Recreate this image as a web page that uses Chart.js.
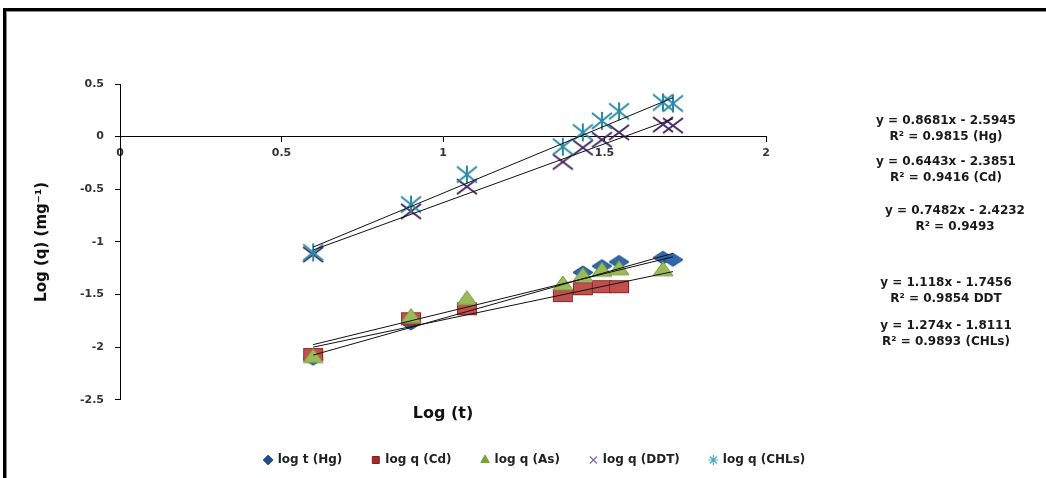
<!DOCTYPE html>
<html>
<head>
<meta charset="utf-8">
<script src="https://cdn.jsdelivr.net/npm/chart.js@4/dist/chart.umd.min.js"></script>
<style>
  html, body { margin: 0; padding: 0; background: #fff; overflow: hidden; }
  #wrap { position: relative; width: 1046px; height: 478px; }
</style>
</head>
<body>
<div id="wrap"><canvas id="c" width="1046" height="478"></canvas></div>
<script>
// log t values (x) for each series
const logT    = [0.598, 0.901, 1.074, 1.371, 1.433, 1.492, 1.545, 1.681, 1.712];
const hgLogT  = [0.598, 0.901, 1.433, 1.492, 1.545, 1.681, 1.712];
const cdLogT  = [0.598, 0.901, 1.074, 1.371, 1.433, 1.492, 1.545];
const asLogT  = [0.598, 0.901, 1.074, 1.371, 1.433, 1.492, 1.545, 1.681];

// log q values (y)
const hgLogQ  = [-2.11, -1.775, -1.29, -1.23, -1.19, -1.15, -1.17];
const cdLogQ  = [-2.07, -1.73, -1.635, -1.51, -1.445, -1.425, -1.425];
const asLogQ  = [-2.08, -1.70, -1.53, -1.39, -1.31, -1.26, -1.245, -1.255];
const ddtLogQ = [-1.12, -0.71, -0.475, -0.24, -0.105, -0.03, 0.04, 0.115, 0.105];
const chlLogQ = [-1.10, -0.645, -0.36, -0.095, 0.04, 0.15, 0.24, 0.325, 0.315];

// series names and linear fits
const seriesNames = ['log t (Hg)', 'log q (Cd)', 'log q (As)', 'log q (DDT)', 'log q (CHLs)'];
const fitSlope     = [0.8681, 0.6443, 0.7482, 1.118, 1.274];
const fitIntercept = [-2.5945, -2.3851, -2.4232, -1.7456, -1.8111];
const fitR2        = [0.9815, 0.9416, 0.9493, 0.9854, 0.9893];
const fitTag       = [' (Hg)', ' (Cd)', '', ' DDT', ' (CHLs)'];

// axis ticks
const xTicks = [0, 0.5, 1, 1.5, 2];
const yTicks = [0.5, 0, -0.5, -1, -1.5, -2, -2.5];

const pts = (xs, ys) => xs.map((x, i) => ({ x: x, y: ys[i] }));

// marker sprites (slightly wide markers)
function sprite(kind, w, h, fill, stroke) {
  const c = document.createElement('canvas');
  c.width = w + 4; c.height = h + 4;
  const g = c.getContext('2d');
  const cx = c.width / 2, cy = c.height / 2;
  g.lineJoin = 'miter';
  if (kind === 'diamond') {
    g.beginPath(); g.moveTo(cx, 2); g.lineTo(w + 2, cy); g.lineTo(cx, h + 2); g.lineTo(2, cy); g.closePath();
    g.fillStyle = fill; g.fill(); g.strokeStyle = stroke; g.lineWidth = 1; g.stroke();
  } else if (kind === 'rect') {
    g.fillStyle = fill; g.fillRect(2, 2, w, h);
    g.strokeStyle = stroke; g.lineWidth = 1; g.strokeRect(2.5, 2.5, w - 1, h - 1);
  } else if (kind === 'triangle') {
    g.beginPath(); g.moveTo(cx, 2); g.lineTo(w + 2, h + 2); g.lineTo(2, h + 2); g.closePath();
    g.fillStyle = fill; g.fill(); g.strokeStyle = stroke; g.lineWidth = 1; g.stroke();
  } else if (kind === 'cross' || kind === 'star') {
    g.strokeStyle = stroke; g.lineWidth = 2; g.lineCap = 'butt';
    g.beginPath();
    g.moveTo(2, 2); g.lineTo(w + 2, h + 2);
    g.moveTo(w + 2, 2); g.lineTo(2, h + 2);
    if (kind === 'star') { g.moveTo(cx, 1); g.lineTo(cx, h + 3); }
    g.stroke();
  }
  return c;
}

const mkHg  = sprite('diamond', 20, 13, '#2F69AC', '#1D4B82');
const mkCd  = sprite('rect', 20, 13, '#C0504D', '#8C2A28');
const mkAs  = sprite('triangle', 20, 14, '#9BBB59', '#7A9A3E');
const mkDdt = sprite('cross', 20, 15, null, '#46285F');
const mkChl = sprite('star', 20, 16, null, '#2A8AA6');

const legendLook = {
  'log t (Hg)':   { style: 'rectRot',  fill: '#1F4E8C', stroke: '#1F4E8C' },
  'log q (Cd)':   { style: 'rect',     fill: '#A32A27', stroke: '#7E1F1D' },
  'log q (As)':   { style: 'triangle', fill: '#77A33A', stroke: '#77A33A' },
  'log q (DDT)':  { style: 'crossRot', fill: '#8064A2', stroke: '#8064A2' },
  'log q (CHLs)': { style: 'star',     fill: '#4BACC6', stroke: '#4BACC6' }
};

const xFrom = logT[0], xTo = logT[logT.length - 1];
const trendSets = fitSlope.map((m, i) => ({
  type: 'line',
  label: 'trend ' + i,
  data: [{ x: xFrom, y: m * xFrom + fitIntercept[i] }, { x: xTo, y: m * xTo + fitIntercept[i] }],
  borderColor: '#111',
  borderWidth: 1,
  pointRadius: 0,
  showLine: true,
  fill: false
}));

const scatterSet = (label, data, img) => ({
  type: 'scatter', label: label, data: data,
  pointStyle: img, pointRadius: 10, pointHoverRadius: 10,
  backgroundColor: '#000', borderColor: '#000'
});

// earlier entries are painted on top
const datasets = trendSets.concat([
  scatterSet(seriesNames[4], pts(logT, chlLogQ), mkChl),
  scatterSet(seriesNames[3], pts(logT, ddtLogQ), mkDdt),
  scatterSet(seriesNames[2], pts(asLogT, asLogQ), mkAs),
  scatterSet(seriesNames[1], pts(cdLogT, cdLogQ), mkCd),
  scatterSet(seriesNames[0], pts(hgLogT, hgLogQ), mkHg)
]);

// page frame
const framePlugin = {
  id: 'frame',
  beforeDraw(chart) {
    const ctx = chart.ctx;
    ctx.save();
    ctx.fillStyle = '#fff';
    ctx.fillRect(0, 0, chart.width, chart.height);
    ctx.fillStyle = '#000';
    ctx.fillRect(3, 8, chart.width - 3, 3);
    ctx.fillRect(3, 8, 3, chart.height - 8);
    ctx.fillStyle = '#8a8a8a';
    ctx.fillRect(6, 11, chart.width - 6, 1);
    ctx.fillRect(6, 11, 1, chart.height - 11);
    ctx.restore();
  }
};

// fit equations at the right side
const eqPlugin = {
  id: 'equations',
  afterDraw(chart, args, opts) {
    const ctx = chart.ctx;
    ctx.save();
    ctx.font = 'bold 12px "DejaVu Sans"';
    ctx.fillStyle = '#1a1a1a';
    ctx.textAlign = 'center';
    ctx.textBaseline = 'middle';
    opts.rows.forEach((r, i) => {
      const eq = 'y = ' + fitSlope[i] + 'x - ' + Math.abs(fitIntercept[i]);
      const rr = 'R\u00B2 = ' + fitR2[i] + fitTag[i];
      ctx.fillText(eq, r[0], r[1]);
      ctx.fillText(rr, r[0], r[1] + 16);
    });
    ctx.restore();
  }
};

const tickFont = { family: '"DejaVu Sans"', size: 11, weight: 'bold' };
const tickText = v => String(v);

new Chart(document.getElementById('c'), {
  type: 'scatter',
  data: { datasets: datasets },
  plugins: [framePlugin, eqPlugin],
  options: {
    responsive: false,
    animation: false,
    events: [],
    layout: { padding: { left: 24, right: 0, top: 84, bottom: 2 } },
    scales: {
      x: {
        type: 'linear', min: 0, max: 2,
        position: { y: 0 },
        afterBuildTicks: s => { s.ticks = xTicks.map(v => ({ value: v })); },
        ticks: { font: tickFont, color: '#333', padding: 5, maxRotation: 0, callback: tickText },
        grid: { display: true, drawOnChartArea: false, drawTicks: true, tickLength: 5, color: '#000' },
        border: { display: true, color: '#000', width: 1 }
      },
      y: {
        type: 'linear', min: -2.5, max: 0.5,
        position: 'left',
        afterBuildTicks: s => { s.ticks = yTicks.slice().reverse().map(v => ({ value: v })); },
        afterFit: s => { s.width = 96; },
        ticks: { font: tickFont, color: '#333', padding: 11, callback: tickText },
        grid: { display: true, drawOnChartArea: false, drawTicks: true, tickLength: 5, color: '#000' },
        border: { display: true, color: '#000', width: 1 },
        title: {
          display: true, text: 'Log (q) (mg\u207B\u00B9)', color: '#111',
          font: { family: '"DejaVu Sans"', size: 15, weight: 'bold' },
          padding: { top: 9, bottom: 0 }
        }
      },
      side: {
        type: 'linear', position: 'right', display: true,
        afterFit: s => { s.width = 280; },
        ticks: { display: false },
        grid: { display: false },
        border: { display: false }
      }
    },
    plugins: {
      tooltip: { enabled: false },
      title: {
        display: true, text: 'Log (t)', position: 'bottom', fullSize: false, weight: 500,
        color: '#111', font: { family: '"DejaVu Sans"', size: 16, weight: 'bold' },
        padding: { top: 4, bottom: 1 }
      },
      legend: {
        display: true, position: 'bottom',
        labels: {
          usePointStyle: true, boxWidth: 7, boxHeight: 7, padding: 30,
          color: '#222', font: { family: '"DejaVu Sans"', size: 12, weight: 'bold' },
          filter: item => !item.text.startsWith('trend'),
          generateLabels: chart => {
            const base = Chart.defaults.plugins.legend.labels.generateLabels(chart);
            return base.map(it => {
              const look = legendLook[it.text];
              if (look) {
                it.pointStyle = look.style;
                it.fillStyle = look.fill;
                it.strokeStyle = look.stroke;
                it.lineWidth = (look.style === 'crossRot' || look.style === 'star') ? 1.2 : 1;
              }
              return it;
            });
          }
        },
        reverse: true
      },
      equations: {
        rows: [[946, 121], [946, 162], [955, 211], [946, 283], [946, 326]]
      }
    }
  }
});
</script>
</body>
</html>
